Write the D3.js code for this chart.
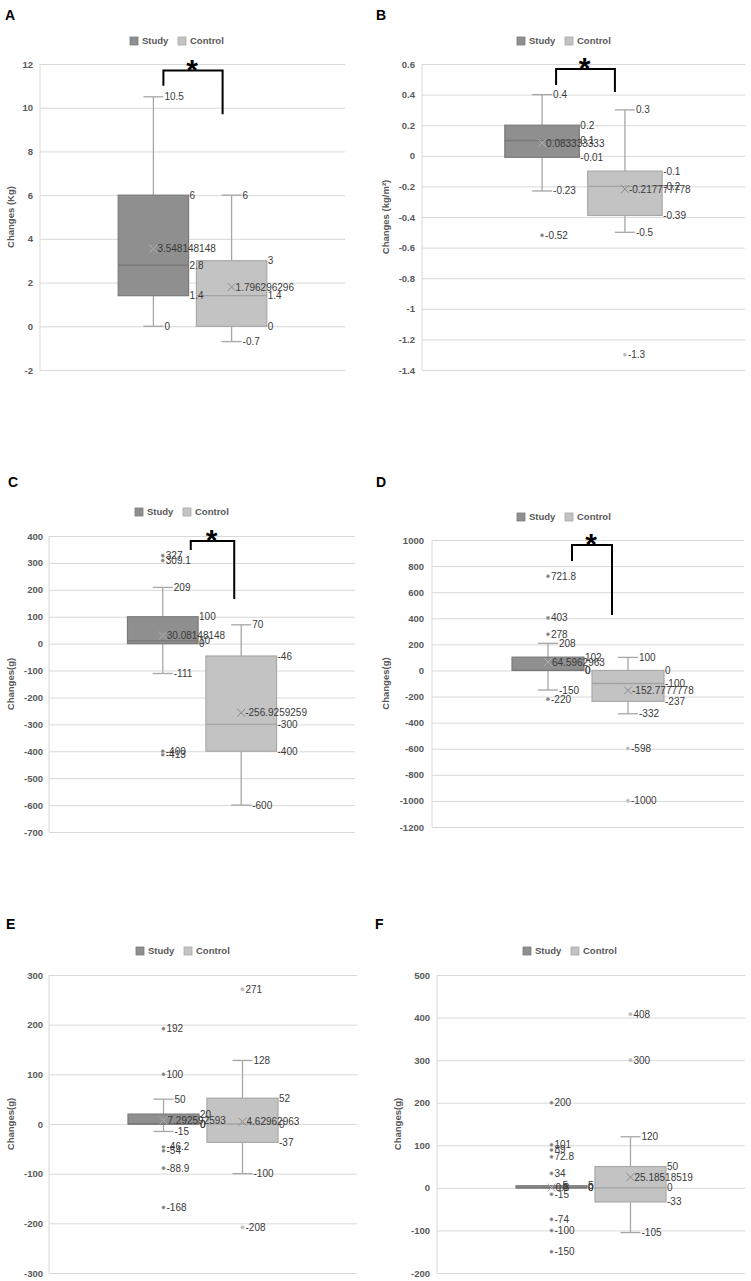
<!DOCTYPE html>
<html>
<head>
<meta charset="utf-8">
<script src="https://cdn.jsdelivr.net/npm/d3@7"></script>
<style>
  body { margin: 0; background: #fff; }
  svg { display: block; font-family: "Liberation Sans", Arial, sans-serif; }
</style>
</head>
<body>
<div id="chart"></div>
<script>
// data
var groups = ["Study", "Control"];
var panelLetters = ["A", "B", "C", "D", "E", "F"];
var yTitles = ["Changes (Kg)", "Changes (kg/m²)", "Changes(g)", "Changes(g)", "Changes(g)", "Changes(g)"];
var yDomains = [[-2, 12], [-1.4, 0.6], [-700, 400], [-1200, 1000], [-300, 300], [-200, 500]];
var yTicks = [
  [12, 10, 8, 6, 4, 2, 0, -2],
  [0.6, 0.4, 0.2, 0, -0.2, -0.4, -0.6, -0.8, -1, -1.2, -1.4],
  [400, 300, 200, 100, 0, -100, -200, -300, -400, -500, -600, -700],
  [1000, 800, 600, 400, 200, 0, -200, -400, -600, -800, -1000, -1200],
  [300, 200, 100, 0, -100, -200, -300],
  [500, 400, 300, 200, 100, 0, -100, -200]
];
// [whisker low, q1, median, q3, whisker high]
var studyStats = [
  [0, 1.4, 2.8, 6, 10.5],
  [-0.23, -0.01, 0.1, 0.2, 0.4],
  [-111, 0, 10, 100, 209],
  [-150, 0, 0, 102, 208],
  [-15, 0, 0, 20, 50],
  [0, 0, 0, 5, 5]
];
var controlStats = [
  [-0.7, 0, 1.4, 3, 6],
  [-0.5, -0.39, -0.2, -0.1, 0.3],
  [-600, -400, -300, -46, 70],
  [-332, -237, -100, 0, 100],
  [-100, -37, 0, 52, 128],
  [-105, -33, 0, 50, 120]
];
var studyMeans = [3.548148148, 0.083333333, 30.08148148, 64.5962963, 7.292592593, 0.8];
var controlMeans = [1.796296296, -0.217777778, -256.9259259, -152.7777778, 4.62962963, 25.18518519];
var studyOutliers = [[], [-0.52], [327, 309.1, -400, -413], [721.8, 403, 278, -220],
  [192, 100, -46.2, -54, -88.9, -168], [200, 101, 89, 72.8, 34, -15, -74, -100, -150]];
var controlOutliers = [[], [-1.3], [], [-598, -1000], [271, -208], [408, 300]];
// significance brackets in y units: top, left leg end, right leg end
var brackets = [[11.7, 11.0, 9.7], [0.567, 0.463, 0.417], [381, 348, 166], [962, 839, 425], null, null];

// layout (pixels)
var layout = [
  {x0: 40, x1: 345, y0: 64, y1: 370, tickX: 33, titleX: 11, legX: 130, legY: 41, letX: 5, letY: 20, bL: 10, bR: -9},
  {x0: 422, x1: 745, y0: 64, y1: 370, tickX: 415, titleX: 386, legX: 517, legY: 41, letX: 376, letY: 20, bL: 14, bR: -10},
  {x0: 49, x1: 355, y0: 536, y1: 832, tickX: 43, titleX: 11, legX: 135, legY: 512, letX: 8, letY: 487, bL: 28, bR: -7},
  {x0: 432, x1: 744, y0: 540, y1: 827, tickX: 424, titleX: 386, legX: 517, legY: 517, letX: 376, letY: 487, bL: 24, bR: -16},
  {x0: 49, x1: 357, y0: 975, y1: 1273, tickX: 43, titleX: 11, legX: 136, legY: 951, letX: 6, letY: 929},
  {x0: 437, x1: 745, y0: 975, y1: 1273, tickX: 430, titleX: 398, legX: 523, legY: 951, letX: 375, letY: 929}
];

var boxFill = {Study: "#8f8f8f", Control: "#c3c3c3"};
var boxStroke = {Study: "#7b7b7b", Control: "#a9a9a9"};
var medianColor = {Study: "#777777", Control: "#a3a3a3"};
var meanColor = {Study: "#b0b0b0", Control: "#8c8c8c"};
var dotFill = {Study: "#808080", Control: "#bdbdbd"};
var labelColor = "#3a3a3a";

var fmt = function(v) { return String(v); };

var svg = d3.select("#chart").append("svg")
  .attr("width", 751)
  .attr("height", 1281);

svg.append("rect").attr("width", 751).attr("height", 1281).attr("fill", "#fff");

panelLetters.forEach(function(letter, i) {
  var L = layout[i];
  var g = svg.append("g");

  var y = d3.scaleLinear().domain(yDomains[i]).range([L.y1, L.y0]);
  var x = d3.scaleBand().domain(groups).range([L.x0, L.x1])
    .paddingInner(0.1).paddingOuter(1.0);

  // panel letter
  g.append("text")
    .attr("x", L.letX).attr("y", L.letY)
    .style("font-size", "14px").style("font-weight", "bold").attr("fill", "#000")
    .text(letter);

  // legend
  groups.forEach(function(d, j) {
    var lx = L.legX + j * 48;
    g.append("rect")
      .attr("x", lx).attr("y", L.legY - 4).attr("width", 8).attr("height", 8)
      .attr("fill", boxFill[d]).attr("stroke", boxStroke[d]).attr("stroke-width", 0.8);
    g.append("text")
      .attr("x", lx + 12).attr("y", L.legY).attr("dy", "0.35em")
      .style("font-size", "9.5px").style("font-weight", "bold").attr("fill", "#595959")
      .text(d);
  });

  // y axis with gridlines
  var axis = g.append("g")
    .attr("transform", "translate(" + L.x0 + ",0)")
    .call(d3.axisLeft(y)
      .tickValues(yTicks[i])
      .tickSize(-(L.x1 - L.x0))
      .tickPadding(L.x0 - L.tickX)
      .tickFormat(fmt));
  axis.select(".domain").attr("stroke", "#d9d9d9").attr("d", "M0," + L.y0 + "V" + L.y1);
  axis.selectAll(".tick line").attr("stroke", "#d9d9d9");
  axis.selectAll(".tick text")
    .attr("fill", "#595959")
    .style("font-size", "9.5px").style("font-weight", "bold")
    .style("font-family", "'Liberation Sans', Arial, sans-serif");

  // y title
  g.append("text")
    .attr("transform", "translate(" + L.titleX + "," + ((L.y0 + L.y1) / 2) + ") rotate(-90)")
    .attr("text-anchor", "middle").attr("dy", "0.35em")
    .style("font-size", "9.5px").style("font-weight", "bold").attr("fill", "#595959")
    .text(yTitles[i]);

  var stats = {Study: studyStats[i], Control: controlStats[i]};
  var means = {Study: studyMeans[i], Control: controlMeans[i]};
  var outs = {Study: studyOutliers[i], Control: controlOutliers[i]};

  // boxes, whiskers, means, outliers
  groups.forEach(function(d) {
    var s = stats[d];
    var bx = x(d), bw = x.bandwidth(), cx = bx + bw / 2;

    g.append("line").attr("x1", cx).attr("x2", cx).attr("y1", y(s[3])).attr("y2", y(s[4]))
      .attr("stroke", "#a6a6a6").attr("stroke-width", 1.3);
    g.append("line").attr("x1", cx).attr("x2", cx).attr("y1", y(s[1])).attr("y2", y(s[0]))
      .attr("stroke", "#a6a6a6").attr("stroke-width", 1.3);
    [s[0], s[4]].forEach(function(v) {
      g.append("line").attr("x1", cx - 10).attr("x2", cx + 10).attr("y1", y(v)).attr("y2", y(v))
        .attr("stroke", "#a6a6a6").attr("stroke-width", 1.3);
    });

    g.append("rect")
      .attr("x", bx).attr("y", y(s[3]))
      .attr("width", bw).attr("height", Math.max(1, y(s[1]) - y(s[3])))
      .attr("fill", boxFill[d]).attr("stroke", boxStroke[d]).attr("stroke-width", 1.2);
    g.append("line").attr("x1", bx).attr("x2", bx + bw).attr("y1", y(s[2])).attr("y2", y(s[2]))
      .attr("stroke", medianColor[d]).attr("stroke-width", 1.3);

    var my = y(means[d]);
    g.append("path")
      .attr("d", "M" + (cx - 4) + "," + (my - 4) + "L" + (cx + 4) + "," + (my + 4) +
        "M" + (cx - 4) + "," + (my + 4) + "L" + (cx + 4) + "," + (my - 4))
      .attr("stroke", meanColor[d]).attr("stroke-width", 1);

    g.selectAll(null).data(outs[d]).enter().append("circle")
      .attr("cx", cx).attr("cy", function(v) { return y(v); }).attr("r", 1.8)
      .attr("fill", dotFill[d]).attr("stroke", "#cfcfcf").attr("stroke-width", 0.5);
  });

  // data labels on top of every mark
  var labels = g.append("g").attr("fill", labelColor).style("font-size", "10px");
  groups.forEach(function(d) {
    var s = stats[d];
    var bx = x(d), bw = x.bandwidth(), cx = bx + bw / 2;
    [s[0], s[4]].forEach(function(v) {
      labels.append("text").attr("x", cx + 11).attr("y", y(v)).attr("dy", "0.35em").text(fmt(v));
    });
    [s[1], s[2], s[3]].forEach(function(v) {
      labels.append("text").attr("x", bx + bw + 1).attr("y", y(v)).attr("dy", "0.35em").text(fmt(v));
    });
    labels.append("text").attr("x", cx + 4).attr("y", y(means[d])).attr("dy", "0.35em").text(fmt(means[d]));
    outs[d].forEach(function(v) {
      labels.append("text").attr("x", cx + 3).attr("y", y(v)).attr("dy", "0.35em").text(fmt(v));
    });
  });

  // significance bracket
  var b = brackets[i];
  if (b) {
    var xl = x("Study") + x.bandwidth() / 2 + L.bL;
    var xr = x("Control") + x.bandwidth() / 2 + L.bR;
    g.append("path")
      .attr("d", "M" + xl + "," + y(b[1]) + "V" + y(b[0]) + "H" + xr + "V" + y(b[2]))
      .attr("fill", "none").attr("stroke", "#000").attr("stroke-width", 2);
    g.append("text")
      .attr("x", (xl + xr) / 2 - 1).attr("y", y(b[0]) + 9)
      .attr("text-anchor", "middle")
      .style("font-size", "30px").style("font-weight", "bold").attr("fill", "#000")
      .text("*");
  }
});
</script>
</body>
</html>
